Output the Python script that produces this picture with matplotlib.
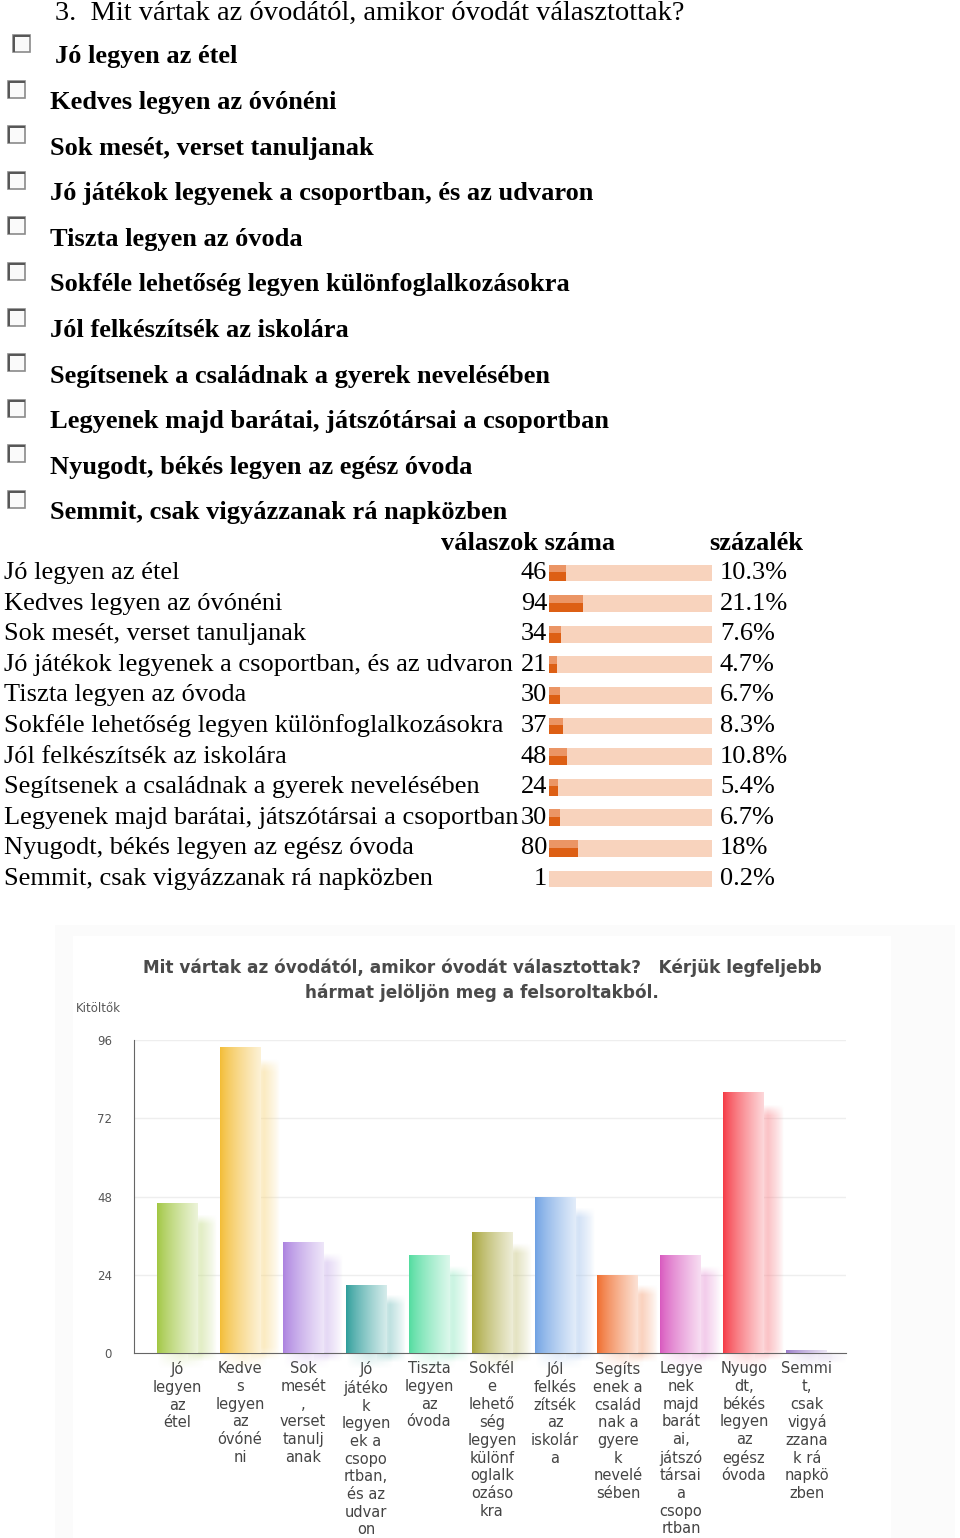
import matplotlib.pyplot as plt
import matplotlib.colors as mcolors
import matplotlib.transforms as mtransforms
from matplotlib.patches import Rectangle
import numpy as np

# survey data
question = "3.  Mit vártak az óvodától, amikor óvodát választottak?"
options = [
    "Jó legyen az étel",
    "Kedves legyen az óvónéni",
    "Sok mesét, verset tanuljanak",
    "Jó játékok legyenek a csoportban, és az udvaron",
    "Tiszta legyen az óvoda",
    "Sokféle lehetőség legyen különfoglalkozásokra",
    "Jól felkészítsék az iskolára",
    "Segítsenek a családnak a gyerek nevelésében",
    "Legyenek majd barátai, játszótársai a csoportban",
    "Nyugodt, békés legyen az egész óvoda",
    "Semmit, csak vigyázzanak rá napközben",
]
counts = [46, 94, 34, 21, 30, 37, 48, 24, 30, 80, 1]
percents = [10.3, 21.1, 7.6, 4.7, 6.7, 8.3, 10.8, 5.4, 6.7, 18, 0.2]

chart_title = ("Mit vártak az óvodától, amikor óvodát választottak?   Kérjük legfeljebb\n"
               "hármat jelöljön meg a felsoroltakból.")
y_label = "Kitöltők"
y_ticks = [0, 24, 48, 72, 96]
x_labels = [
    "Jó\nlegyen\naz\nétel",
    "Kedve\ns\nlegyen\naz\nóvóné\nni",
    "Sok\nmesét\n,\nverset\ntanulj\nanak",
    "Jó\njátéko\nk\nlegyen\nek a\ncsopo\nrtban,\nés az\nudvar\non",
    "Tiszta\nlegyen\naz\nóvoda",
    "Sokfél\ne\nlehető\nség\nlegyen\nkülönf\noglalk\nozáso\nkra",
    "Jól\nfelkés\nzítsék\naz\niskolár\na",
    "Segíts\nenek a\ncsalád\nnak a\ngyere\nk\nnevelé\nsében",
    "Legye\nnek\nmajd\nbarát\nai,\njátszó\ntársai\na\ncsopo\nrtban",
    "Nyugo\ndt,\nbékés\nlegyen\naz\negész\nóvoda",
    "Semmi\nt,\ncsak\nvigyá\nzzana\nk rá\nnapkö\nzben",
]
bar_colors = ["#96c02c", "#f2b51f", "#a274dc", "#16928f", "#3ed894", "#9d9a22",
              "#5f97e0", "#ee5a12", "#d446b8", "#f42430", "#8e6cc4"]

W, H = 960, 1538
fig = plt.figure(figsize=(W / 100, H / 100), dpi=100)

# full-figure pixel axes for the page text
base = fig.add_axes([0, 0, 1, 1])
base.set_xlim(0, W)
base.set_ylim(H, 0)
base.axis("off")

serif = "Liberation Serif"
fs = 19
base.text(55, 13, question, fontsize=20.5, family=serif, va="center", ha="left")

for i, opt in enumerate(options):
    ty = 57 + i * 45.6
    tx = 55 if i == 0 else 50
    bx = 13 if i == 0 else 8
    base.text(tx, ty, opt, fontsize=fs, family=serif, weight="bold", va="center", ha="left")
    base.add_patch(Rectangle((bx, ty - 22), 17, 17, facecolor="#fafafa",
                             edgecolor="#8a8a8a", lw=1.2))
    base.plot([bx + 1, bx + 1, bx + 16], [ty - 6, ty - 21, ty - 21], color="#555555", lw=1.4)

# answer table
base.text(528, 544, "válaszok száma", fontsize=fs, family=serif, weight="bold", va="center", ha="center")
base.text(756, 544, "százalék", fontsize=fs, family=serif, weight="bold", va="center", ha="center")

row0, row_h = 573, 30.6
n = len(options)
tab = fig.add_axes([549 / W, 1 - (row0 + (n - 0.5) * row_h) / H,
                    163 / W, n * row_h / H])
tab.set_xlim(0, 100)
tab.set_ylim(n - 0.5, -0.5)
tab.axis("off")
rows = np.arange(n)
tab.barh(rows, [100] * n, height=0.55, color="#f8d3bd", edgecolor="none")
tab.barh(rows, percents, height=0.55, color="#dd5f14", edgecolor="none")
tab.barh(rows - 0.15, percents, height=0.25, color="#eb9565", edgecolor="none")

mix = mtransforms.blended_transform_factory(base.transData, tab.transData)
for i in range(n):
    base.text(4, i, options[i], transform=mix, fontsize=fs, family=serif, va="center", ha="left")
    base.text(547, i, str(counts[i]), transform=mix, fontsize=fs, family=serif, va="center", ha="right")
    base.text(720, i, f"{percents[i]:g}%", transform=mix, fontsize=fs, family=serif, va="center", ha="left")

# chart panel backgrounds
base.add_patch(Rectangle((55, 925), 900, 613, facecolor="#fbfbfb", edgecolor="none", zorder=0))
base.add_patch(Rectangle((73, 936), 818, 602, facecolor="white", edgecolor="none", zorder=0))

base.text(482, 980, chart_title, fontsize=12.2, weight="bold", color="#4a4a4a",
          ha="center", va="center", linespacing=1.45)
base.text(98, 1009, y_label, fontsize=8.5, color="#555555", ha="center", va="center")

# bar chart
ax = fig.add_axes([134 / W, 1 - 1353 / H, (846 - 134) / W, 313 / H])
ax.set_xlim(-0.683, 10.62)
ax.set_ylim(0, 96)
ax.patch.set_alpha(0)
for s in ["top", "right"]:
    ax.spines[s].set_visible(False)
for s in ["left", "bottom"]:
    ax.spines[s].set_color("#666666")
ax.set_yticks(y_ticks)
ax.set_yticklabels([str(t) for t in y_ticks], fontsize=8.5, color="#555555")
ax.tick_params(axis="y", length=0, pad=16)
ax.tick_params(axis="x", length=0, pad=6)
for t in y_ticks[1:]:
    ax.axhline(t, color="#eeeeee", lw=1, zorder=0)

xs = np.arange(n)
bw = 0.65
bars = ax.bar(xs, counts, width=bw, color="none", edgecolor="none", zorder=3)
for x, v, c, b in zip(xs, counts, bar_colors, bars):
    rgb = np.array(mcolors.to_rgb(c))
    # soft blurred shadow to the right of the bar
    sx = np.linspace(0, 1, 48)
    sy = np.linspace(0, 1, 48)
    x_prof = np.clip(1 - np.abs(sx - 0.45) / 0.55, 0, 1) ** 0.8
    top = max(v - 3, 0.5)
    yy = sy * (top + 3) - 3
    y_prof = np.clip((top - yy) / 3.0, 0, 1) * np.clip((yy + 3) / 3.0, 0, 1)
    alpha = 0.5 * y_prof[:, None] * x_prof[None, :]
    shade = np.zeros((48, 48, 4))
    shade[..., :3] = rgb * 0.55 + 0.45
    shade[..., 3] = alpha
    ax.imshow(shade, extent=[x + bw / 2 - 0.15, x + bw / 2 + 0.3, -3, top],
              origin="lower", aspect="auto", zorder=2, interpolation="bilinear", clip_on=False)
    # glow under the bar below the axis
    gy = np.linspace(0, 1, 24)
    glow = np.zeros((24, 24, 4))
    glow[..., :3] = rgb * 0.6 + 0.4
    glow[..., 3] = 0.35 * gy[:, None] * np.clip(1 - np.abs(np.linspace(-1, 1, 24)), 0, 1)[None, :] ** 0.7
    ax.imshow(glow, extent=[x - bw / 2, x + bw / 2 + 0.1, -5, 0], origin="lower",
              aspect="auto", zorder=2, interpolation="bilinear", clip_on=False)
    # horizontal gradient fill clipped to the bar
    t = np.linspace(0, 1, 64)
    mixw = 0.1 + 0.72 * t ** 0.8
    grad = rgb[None, :] * (1 - mixw[:, None]) + mixw[:, None]
    img = ax.imshow(grad[None, :, :], extent=[x - bw / 2, x + bw / 2, 0, v],
                    aspect="auto", zorder=3, interpolation="bilinear")
    img.set_clip_path(b)

ax.set_xticks(xs)
ax.set_xticklabels(x_labels, fontsize=10.5, color="#444444", linespacing=1.22, va="top")
ax.set_xlim(-0.683, 10.62)
ax.set_ylim(0, 96)

fig.savefig("out.png", dpi=100)
